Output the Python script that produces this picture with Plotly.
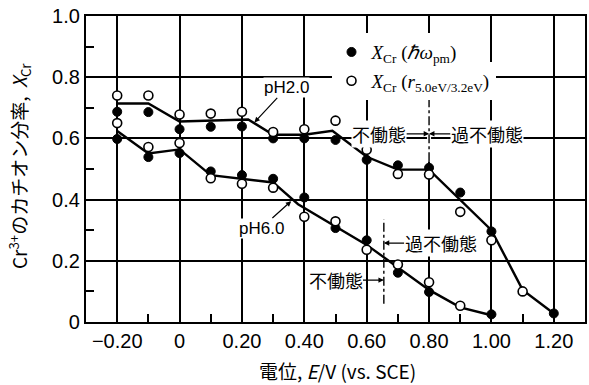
import plotly.graph_objects as go

# ---------------- data ----------------
# pH 2.0
ph2_E_fill = [-0.2, -0.1, 0.0, 0.1, 0.2, 0.3, 0.4, 0.5, 0.6, 0.7, 0.8, 0.9, 1.0, 1.2]
ph2_X_fill = [0.687, 0.686, 0.630, 0.638, 0.639, 0.600, 0.600, 0.595, 0.530, 0.512, 0.504, 0.423, 0.296, 0.028]
ph2_E_open = [-0.2, -0.1, 0.0, 0.1, 0.2, 0.3, 0.4, 0.5, 0.6, 0.7, 0.8, 0.9, 1.0, 1.1]
ph2_X_open = [0.740, 0.740, 0.678, 0.681, 0.687, 0.621, 0.630, 0.658, 0.563, 0.484, 0.482, 0.360, 0.267, 0.100]
# pH 6.0
ph6_E_fill = [-0.2, -0.1, 0.0, 0.1, 0.2, 0.3, 0.4, 0.5, 0.6, 0.7, 0.8, 1.0]
ph6_X_fill = [0.598, 0.539, 0.552, 0.492, 0.480, 0.468, 0.407, 0.307, 0.267, 0.161, 0.098, 0.025]
ph6_E_open = [-0.2, -0.1, 0.0, 0.1, 0.2, 0.3, 0.4, 0.5, 0.6, 0.7, 0.8, 0.9]
ph6_X_open = [0.650, 0.572, 0.585, 0.470, 0.452, 0.439, 0.344, 0.329, 0.236, 0.188, 0.130, 0.053]

# hand-drawn trend lines
ph2_fit_E = [-0.2, -0.1, 0.0, 0.22, 0.3, 0.4, 0.49, 0.6, 0.7, 0.8, 1.0, 1.1, 1.2]
ph2_fit_X = [0.714, 0.714, 0.655, 0.662, 0.612, 0.612, 0.625, 0.540, 0.498, 0.498, 0.300, 0.105, 0.028]
ph6_fit_E = [-0.2, -0.1, 0.0, 0.1, 0.3, 0.38, 0.6, 0.8, 0.9, 1.0]
ph6_fit_X = [0.624, 0.551, 0.564, 0.480, 0.456, 0.385, 0.252, 0.105, 0.048, 0.022]

# passive / transpassive boundaries
ph2_boundary_E = 0.80
ph6_boundary_E = 0.655

# axis ticks
x_tickvals = [-0.2, 0.0, 0.2, 0.4, 0.6, 0.8, 1.0, 1.2]
x_ticktext = ["\u22120.20", "0", "0.20", "0.40", "0.60", "0.80", "1.00", "1.20"]
x_minor = [-0.1, 0.1, 0.3, 0.5, 0.7, 0.9, 1.1]
y_tickvals = [0.0, 0.2, 0.4, 0.6, 0.8, 1.0]
y_ticktext = ["0", "0.2", "0.4", "0.6", "0.8", "1.0"]
y_minor = [0.1, 0.3, 0.5, 0.7, 0.9]

legend_fill = "<i>X</i><sub>Cr</sub> (<i>\u210f\u03c9</i><sub>pm</sub>)"
legend_open = "<i>X</i><sub>Cr</sub> (<i>r</i><sub>5.0eV/3.2eV</sub>)"

# ---------------- figure ----------------
fig = go.Figure()

LINE = dict(color="black", width=2.4)
fig.add_trace(go.Scatter(x=ph2_fit_E, y=ph2_fit_X, mode="lines", line=LINE, showlegend=False))
fig.add_trace(go.Scatter(x=ph6_fit_E, y=ph6_fit_X, mode="lines", line=LINE, showlegend=False))

FILL = dict(symbol="circle", size=9, color="black", line=dict(color="black", width=1))
OPEN = dict(symbol="circle", size=9, color="white", line=dict(color="black", width=1.6))

# open-circle entry goes in "legend" (drawn first), filled entry in "legend2" (drawn on top)
fig.add_trace(go.Scatter(x=ph2_E_fill, y=ph2_X_fill, mode="markers", marker=FILL,
                         name=legend_fill, legend="legend2"))
fig.add_trace(go.Scatter(x=ph6_E_fill, y=ph6_X_fill, mode="markers", marker=FILL,
                         showlegend=False))
fig.add_trace(go.Scatter(x=ph2_E_open, y=ph2_X_open, mode="markers", marker=OPEN,
                         name=legend_open, legend="legend"))
fig.add_trace(go.Scatter(x=ph6_E_open, y=ph6_X_open, mode="markers", marker=OPEN,
                         showlegend=False))

# boundary markers (dash-dot), with a white mask over the grid line for pH 2.0
fig.add_shape(type="line", xref="x", yref="y", x0=ph2_boundary_E, x1=ph2_boundary_E,
              y0=0.525, y1=0.75, line=dict(color="white", width=4), layer="between")
fig.add_shape(type="line", xref="x", yref="y", x0=ph2_boundary_E, x1=ph2_boundary_E,
              y0=0.525, y1=0.745, line=dict(color="black", width=1.4, dash="dashdot"), layer="between")
fig.add_shape(type="line", xref="x", yref="y", x0=ph6_boundary_E, x1=ph6_boundary_E,
              y0=0.06, y1=0.335, line=dict(color="black", width=1.4, dash="dashdot"), layer="between")

JP = "Noto Sans CJK JP"
lab_font = dict(family=JP, size=18, color="black")
ph_font = dict(family="Liberation Sans", size=17, color="black")

def arrow_label(text, x, y, ax, ay, font):
    fig.add_annotation(text=text, x=x, y=y, ax=ax, ay=ay, xref="x", yref="y",
                       axref="x", ayref="y", showarrow=True, arrowhead=2, arrowsize=0.9,
                       arrowwidth=1.2, arrowcolor="black", standoff=0, startstandoff=0,
                       font=font, bgcolor="white", borderpad=0)

arrow_label("不働態", ph2_boundary_E, 0.615, 0.64, 0.615, lab_font)
arrow_label("過不働態", ph2_boundary_E, 0.615, 0.985, 0.615, lab_font)
arrow_label("不働態", ph6_boundary_E, 0.137, 0.50, 0.137, lab_font)
arrow_label("過不働態", ph6_boundary_E, 0.258, 0.837, 0.258, lab_font)
arrow_label("pH2.0", 0.24, 0.652, 0.343, 0.765, ph_font)
arrow_label("pH6.0", 0.358, 0.395, 0.262, 0.307, ph_font)

# axis titles
fig.add_annotation(text="電位, <i>E</i>/V (vs. SCE)", xref="paper", yref="paper",
                   x=0.505, y=-0.157, xanchor="center", yanchor="middle", showarrow=False,
                   font=dict(family=JP, size=19, color="black"))
fig.add_annotation(text="Cr<sup>3+</sup>のカチオン分率,  <i>X</i><sub>Cr</sub>",
                   xref="paper", yref="paper", x=-0.132, y=0.51, xanchor="center",
                   yanchor="middle", textangle=-90, showarrow=False,
                   font=dict(family=JP, size=19, color="black"))

AX = dict(showline=True, linecolor="black", linewidth=2.2, mirror=True,
          showgrid=True, gridcolor="black", gridwidth=1.8, zeroline=False,
          ticks="", tickfont=dict(family="Liberation Sans", size=20, color="black"),
          tickmode="array")

fig.update_xaxes(range=[-0.3, 1.3], tickvals=x_tickvals, ticktext=x_ticktext,
                 minor=dict(tickmode="array", tickvals=x_minor, ticks="inside", ticklen=8,
                            tickwidth=1.6, tickcolor="black", showgrid=False), **AX)
fig.update_yaxes(range=[0, 1.0], tickvals=y_tickvals, ticktext=y_ticktext,
                 minor=dict(tickmode="array", tickvals=y_minor, ticks="inside", ticklen=8,
                            tickwidth=1.6, tickcolor="black", showgrid=False), **AX)

leg_common = dict(bgcolor="white", borderwidth=0, xanchor="left", yanchor="middle",
                  font=dict(family="Liberation Serif", size=19, color="black"),
                  itemwidth=30, tracegroupgap=0)
fig.update_layout(
    width=589, height=385,
    margin=dict(l=86, r=2, t=16, b=63),
    paper_bgcolor="white", plot_bgcolor="white",
    legend=dict(x=0.492, y=0.788, **leg_common),
    legend2=dict(x=0.492, y=0.882, **leg_common),
)

fig.write_html("out.html")
